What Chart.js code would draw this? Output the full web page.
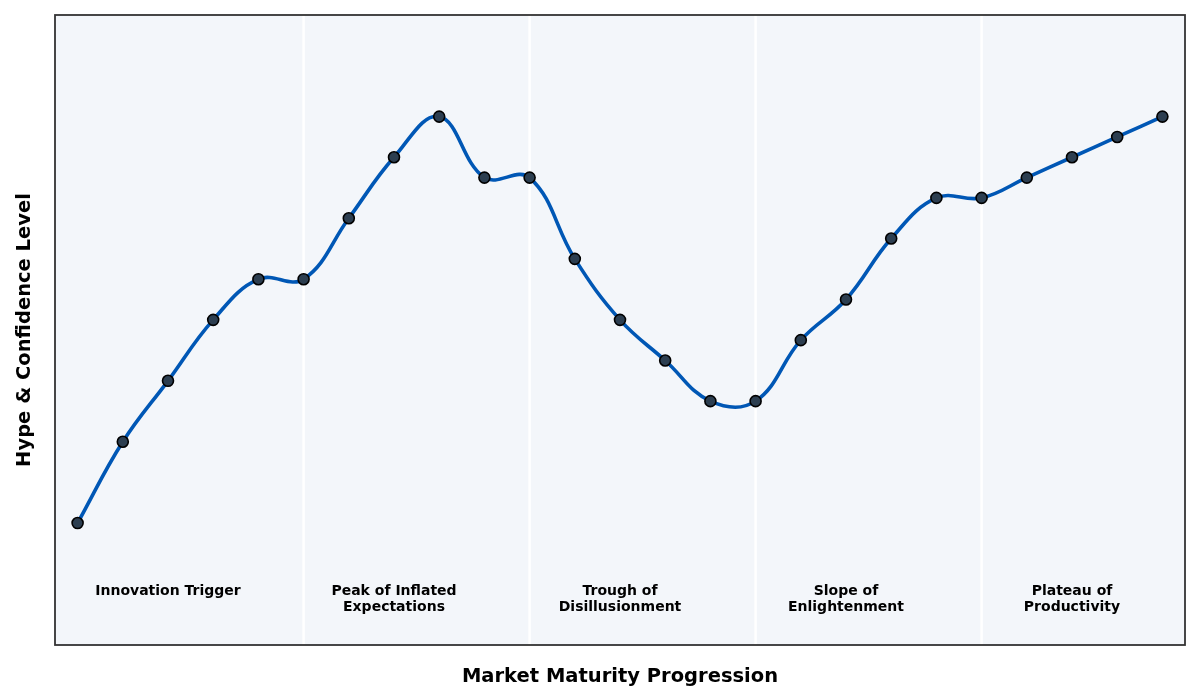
<!DOCTYPE html>
<html>
<head>
<meta charset="utf-8">
<script src="https://cdn.jsdelivr.net/npm/chart.js@4/dist/chart.umd.min.js"></script>
<style>
  html, body { margin: 0; padding: 0; background: #fff; }
  #wrap { width: 1200px; height: 700px; }
</style>
</head>
<body>
<div id="wrap"><canvas id="my-chart" width="1200" height="700"></canvas></div>
<script>
// hype cycle readings, one per step along the x axis
const steps = [0, 1, 2, 3, 4, 5, 6, 7, 8, 9, 10, 11, 12, 13, 14, 15, 16, 17, 18, 19, 20, 21, 22, 23, 24];
const hype = [30, 50, 65, 80, 90, 90, 105, 120, 130, 115, 115, 95, 80, 70, 60, 60, 75, 85, 100, 110, 110, 115, 120, 125, 130];

// phases: boundaries sit on these steps, labels centred on the middle step
const phaseBounds = [5, 10, 15, 20];
const phaseCenters = [2, 7, 12, 17, 22];
const phaseNames = [
  ['Innovation Trigger'],
  ['Peak of Inflated', 'Expectations'],
  ['Trough of', 'Disillusionment'],
  ['Slope of', 'Enlightenment'],
  ['Plateau of', 'Productivity']
];
const labelLevel = 13.1;

const FONT = "'DejaVu Sans', sans-serif";

const phasePlugin = {
  id: 'phases',
  beforeDatasetsDraw(chart) {
    const { ctx, chartArea: a, scales: { x, y } } = chart;
    ctx.save();
    ctx.fillStyle = '#f3f6fa';
    ctx.fillRect(a.left, a.top, a.width, a.height);
    ctx.strokeStyle = '#ffffff';
    ctx.lineWidth = 2.5;
    phaseBounds.forEach((b) => {
      const px = x.getPixelForValue(b);
      ctx.beginPath();
      ctx.moveTo(px, a.top);
      ctx.lineTo(px, a.bottom);
      ctx.stroke();
    });
    ctx.fillStyle = '#000';
    ctx.font = 'bold 14px ' + FONT;
    ctx.textAlign = 'center';
    ctx.textBaseline = 'middle';
    const py = y.getPixelForValue(labelLevel);
    phaseNames.forEach((lines, i) => {
      const px = x.getPixelForValue(phaseCenters[i]);
      lines.forEach((t, j) => ctx.fillText(t, px, py + j * 15.5));
    });
    ctx.restore();
  },
  afterDraw(chart) {
    const { ctx, chartArea: a } = chart;
    ctx.save();
    ctx.strokeStyle = '#333333';
    ctx.lineWidth = 1.8;
    ctx.strokeRect(a.left, a.top, a.width, a.height);
    ctx.restore();
  }
};

const ctx = document.getElementById('my-chart').getContext('2d');
new Chart(ctx, {
  type: 'line',
  data: {
    datasets: [
      {
        label: 'Hype',
        data: steps.map((s, i) => ({ x: s, y: hype[i] })),
        borderColor: '#0057b5',
        borderWidth: 3.6,
        tension: 0.4,
        pointRadius: 5.5,
        pointBackgroundColor: '#2c3e50',
        pointBorderColor: '#000000',
        pointBorderWidth: 1.6,
        fill: false
      }
    ]
  },
  options: {
    responsive: false,
    animation: false,
    layout: { padding: { top: 15, right: 15, left: 0, bottom: 0 } },
    plugins: { legend: { display: false }, tooltip: { enabled: false } },
    scales: {
      x: {
        type: 'linear',
        min: -0.5,
        max: 24.5,
        grid: { display: false },
        border: { display: false },
        ticks: { display: false },
        title: {
          display: true,
          text: 'Market Maturity Progression',
          color: '#000',
          font: { family: FONT, size: 19.5, weight: 'bold' },
          padding: { top: 18, bottom: 11 }
        },
        afterFit(s) { s.height = 55; }
      },
      y: {
        min: 0,
        max: 155,
        grid: { display: false },
        border: { display: false },
        ticks: { display: false },
        title: {
          display: true,
          text: 'Hype & Confidence Level',
          color: '#000',
          font: { family: FONT, size: 19.5, weight: 'bold' },
          padding: { top: 13, bottom: 10 }
        },
        afterFit(s) { s.width = 55; }
      }
    }
  },
  plugins: [phasePlugin]
});
</script>
</body>
</html>
